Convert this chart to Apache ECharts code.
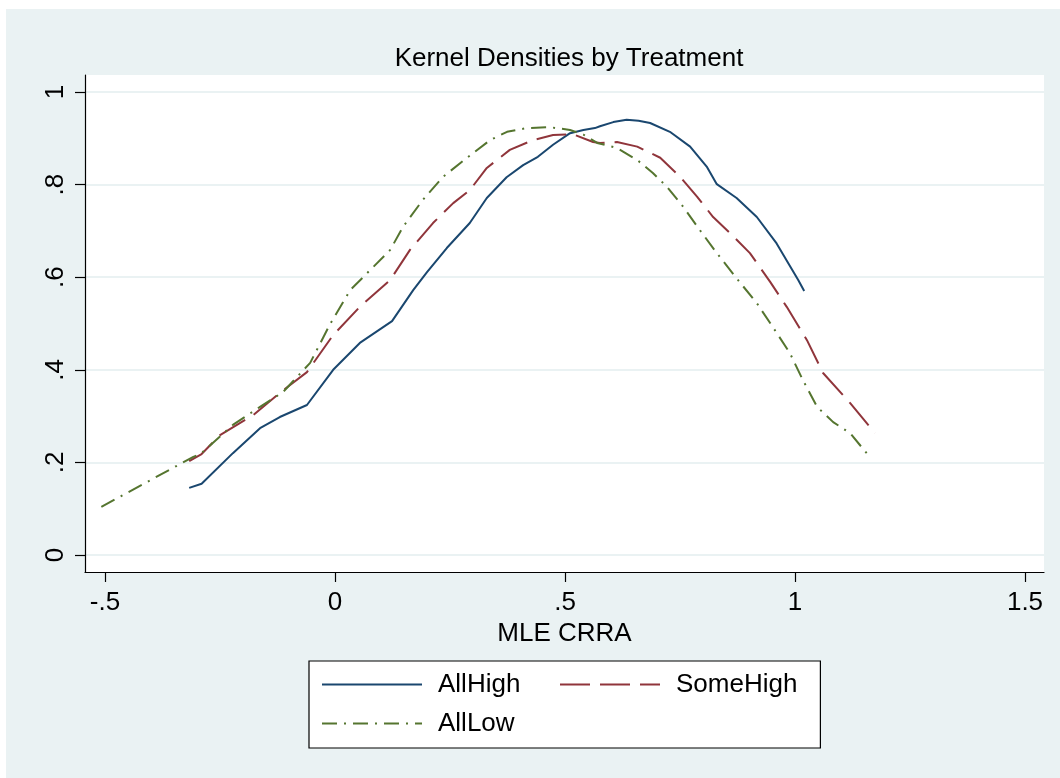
<!DOCTYPE html>
<html><head><meta charset="utf-8">
<script src="https://cdn.jsdelivr.net/npm/echarts@6/dist/echarts.min.js"></script>
<style>html,body{margin:0;padding:0;background:#fff;}#c{width:1060px;height:778px;}</style>
</head><body><div id="c"></div><script>
const chartTitle = 'Kernel Densities by Treatment';
const xAxisName = 'MLE CRRA';
const seriesNames = ['AllHigh', 'SomeHigh', 'AllLow'];
const yTicks = [0, 0.2, 0.4, 0.6, 0.8, 1];
const xTicks = [-0.5, 0, 0.5, 1, 1.5];

const allHighX = [-0.317, -0.290, -0.222, -0.163, -0.120, -0.061, -0.004, 0.054, 0.124, 0.170, 0.200, 0.243, 0.293, 0.330, 0.373, 0.409, 0.441, 0.474, 0.511, 0.540, 0.565, 0.576, 0.605, 0.634, 0.660, 0.685, 0.728, 0.772, 0.808, 0.830, 0.873, 0.917, 0.960, 1.007, 1.020];
const allHighY = [0.145, 0.154, 0.220, 0.274, 0.298, 0.324, 0.400, 0.458, 0.505, 0.572, 0.611, 0.663, 0.717, 0.771, 0.816, 0.842, 0.860, 0.886, 0.911, 0.918, 0.922, 0.926, 0.935, 0.940, 0.938, 0.933, 0.914, 0.882, 0.839, 0.801, 0.771, 0.730, 0.673, 0.594, 0.570];

const someHighX = [-0.317, -0.290, -0.250, -0.178, -0.120, -0.061, -0.004, 0.054, 0.120, 0.163, 0.213, 0.257, 0.293, 0.330, 0.380, 0.430, 0.474, 0.517, 0.561, 0.576, 0.613, 0.657, 0.707, 0.750, 0.787, 0.822, 0.859, 0.902, 0.946, 0.982, 1.026, 1.061, 1.120, 1.174];
const someHighY = [0.203, 0.218, 0.259, 0.302, 0.350, 0.395, 0.475, 0.536, 0.594, 0.659, 0.717, 0.760, 0.788, 0.836, 0.875, 0.896, 0.907, 0.909, 0.892, 0.890, 0.892, 0.882, 0.858, 0.817, 0.774, 0.730, 0.695, 0.652, 0.590, 0.536, 0.464, 0.393, 0.328, 0.263];

const allLowX = [-0.508, -0.308, -0.293, -0.278, -0.222, -0.163, -0.113, -0.054, -0.010, 0.033, 0.083, 0.120, 0.148, 0.191, 0.235, 0.287, 0.337, 0.374, 0.417, 0.467, 0.511, 0.540, 0.570, 0.613, 0.657, 0.691, 0.722, 0.757, 0.793, 0.830, 0.876, 0.917, 0.952, 0.989, 1.017, 1.048, 1.083, 1.120, 1.159];
const allLowY = [0.104, 0.212, 0.218, 0.231, 0.281, 0.320, 0.352, 0.415, 0.500, 0.572, 0.622, 0.659, 0.709, 0.767, 0.817, 0.858, 0.896, 0.914, 0.922, 0.924, 0.918, 0.908, 0.890, 0.879, 0.853, 0.825, 0.795, 0.752, 0.702, 0.652, 0.594, 0.544, 0.492, 0.436, 0.378, 0.320, 0.287, 0.263, 0.216];

const FONT = "'Liberation Sans', Arial, sans-serif";
const pair = (xs, ys) => xs.map((x, i) => [x, ys[i]]);
const fmt = v => {
  if (Math.abs(v) < 1e-9) return '0';
  let s = String(+v.toFixed(2));
  return s.replace(/^(-?)0\./, '$1.');
};

const chart = echarts.init(document.getElementById('c'), null, {renderer: 'canvas'});
chart.setOption({
  animation: false,
  backgroundColor: '#ffffff',
  graphic: [{
    type: 'rect', z: -100, silent: true,
    shape: {x: 6, y: 9, width: 1054, height: 769},
    style: {fill: '#EAF2F3'}
  }],
  title: {
    text: chartTitle, left: 564, textAlign: 'center', top: 41,
    textStyle: {fontFamily: FONT, fontSize: 26, fontWeight: 'normal', color: '#000'}
  },
  grid: {
    left: 85, right: 16, top: 75, bottom: 206,
    show: true, backgroundColor: '#ffffff', borderWidth: 0,
    containLabel: false, outerBoundsMode: 'none'
  },
  legend: {
    data: seriesNames,
    left: 309, top: 661, width: 490,
    orient: 'horizontal',
    padding: [9, 23, 10, 12],
    backgroundColor: '#ffffff', borderColor: '#000', borderWidth: 1.2,
    itemWidth: 100, itemHeight: 14, itemGap: 10,
    itemStyle: {color: 'transparent', borderColor: 'transparent', borderWidth: 0, opacity: 0},
    textStyle: {fontFamily: FONT, fontSize: 26, color: '#000', width: 111, lineHeight: 29, padding: [0, 0, 0, 11]}
  },
  xAxis: {
    type: 'value', min: -0.5435, max: 1.5413,
    name: xAxisName, nameLocation: 'middle', nameGap: 46,
    nameTextStyle: {fontFamily: FONT, fontSize: 26, color: '#000'},
    axisLine: {show: true, onZero: false, lineStyle: {color: '#000', width: 1.2}},
    axisTick: {show: true, length: 10, customValues: xTicks, lineStyle: {color: '#000', width: 1.2}},
    axisLabel: {customValues: xTicks, margin: 18, formatter: fmt, fontFamily: FONT, fontSize: 26, color: '#000'},
    splitLine: {show: false}
  },
  yAxis: {
    type: 'value', min: -0.0367, max: 1.0367,
    axisLine: {show: true, onZero: false, lineStyle: {color: '#000', width: 1.2}},
    axisTick: {show: true, length: 10, customValues: yTicks, lineStyle: {color: '#000', width: 1.2}},
    axisLabel: {customValues: yTicks, rotate: 90, margin: 16, formatter: fmt, fontFamily: FONT, fontSize: 26, color: '#000'},
    splitLine: {show: true, lineStyle: {color: '#EAF2F3', width: 2}}
  },
  series: [
    {name: seriesNames[0], type: 'line', symbol: 'none', data: pair(allHighX, allHighY),
     lineStyle: {color: '#1a476f', width: 2, type: 'solid'}, itemStyle: {color: '#1a476f'}},
    {name: seriesNames[1], type: 'line', symbol: 'none', data: pair(someHighX, someHighY),
     lineStyle: {color: '#90353b', width: 2, type: [30, 10]}, itemStyle: {color: '#90353b'}},
    {name: seriesNames[2], type: 'line', symbol: 'none', data: pair(allLowX, allLowY),
     lineStyle: {color: '#55752f', width: 2, type: [15, 7, 2, 7]}, itemStyle: {color: '#55752f'}}
  ]
});
</script></body></html>
